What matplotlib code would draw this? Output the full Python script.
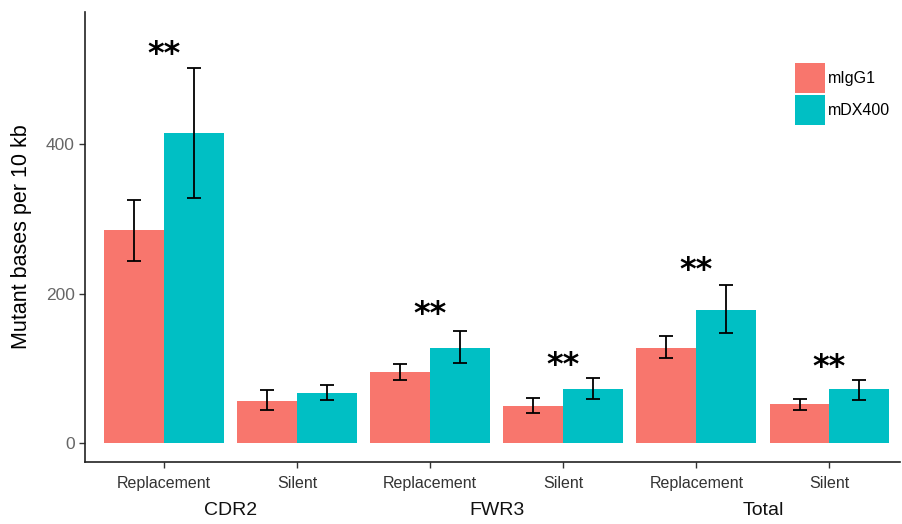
import matplotlib
matplotlib.use("Agg")
import matplotlib.pyplot as plt
import numpy as np

plt.rcParams["font.family"] = ["Liberation Sans", "DejaVu Sans"]

regions = ["CDR2", "FWR3", "Total"]
mut_types = ["Replacement", "Silent", "Replacement", "Silent", "Replacement", "Silent"]
series = ["mIgG1", "mDX400"]
migg1_mean = [285, 57, 95, 50, 128, 52]
migg1_lo = [244, 44, 85, 41, 114, 44]
migg1_hi = [325, 71, 106, 60, 143, 59]
mdx_mean = [415, 67, 128, 73, 178, 72]
mdx_lo = [328, 58, 107, 59, 147, 58]
mdx_hi = [502, 78, 150, 88, 212, 85]
star_y = [523, None, 175, 107, 234, 104]
yticks = [0, 200, 400]

colors = ["#F8766D", "#00BFC4"]

fig = plt.figure(figsize=(9.03, 5.24), dpi=100)
ax = fig.add_axes([85/903, (524-462)/524, (900-85)/903, (462-12)/524])

x = np.arange(len(mut_types))
w = 0.45
for i, (m, lo, hi, c, lab) in enumerate([
        (migg1_mean, migg1_lo, migg1_hi, colors[0], series[0]),
        (mdx_mean, mdx_lo, mdx_hi, colors[1], series[1])]):
    xs = x + (i - 0.5) * w
    ax.bar(xs, m, width=w, color=c, label=lab, zorder=2)
    m = np.array(m); lo = np.array(lo); hi = np.array(hi)
    ax.errorbar(xs, m, yerr=[m - lo, hi - m], fmt="none", ecolor="black",
                elinewidth=1.3, capsize=4.7, capthick=1.3, zorder=3)

for xi, sy in zip(x, star_y):
    if sy is not None:
        ax.text(xi, sy - 3, "**", ha="center", va="center", fontsize=23,
                fontweight="bold", color="black", family="DejaVu Sans")

ax.set_xlim(-0.594, 5.53)
ax.set_ylim(-25, 577)
ax.set_xticks(x)
ax.set_xticklabels(mut_types, fontsize=11.5, color="#333333")
ax.set_yticks(yticks)
ax.set_yticklabels([str(v) for v in yticks], fontsize=12.5, color="#666666")
ax.tick_params(axis="both", length=4, width=1, color="#333333")
ax.tick_params(axis="x", pad=6)
for s in ["top", "right"]:
    ax.spines[s].set_visible(False)
for s in ["left", "bottom"]:
    ax.spines[s].set_linewidth(1.2)
    ax.spines[s].set_color("#222222")
ax.set_ylabel("Mutant bases per 10 kb", fontsize=15.5, color="black", labelpad=10)

for gi, g in enumerate(regions):
    ax.text(2 * gi + 0.5, -0.107, g, transform=ax.get_xaxis_transform(),
            ha="center", va="center", fontsize=14, color="#111111")

leg = ax.legend(loc="upper left", bbox_to_anchor=(0.8634, 0.9), frameon=False,
                fontsize=11.5, handlelength=1.9, handleheight=2.5,
                handletextpad=0.15, labelspacing=0.1, borderaxespad=0)

fig.savefig("out.png", dpi=100)
